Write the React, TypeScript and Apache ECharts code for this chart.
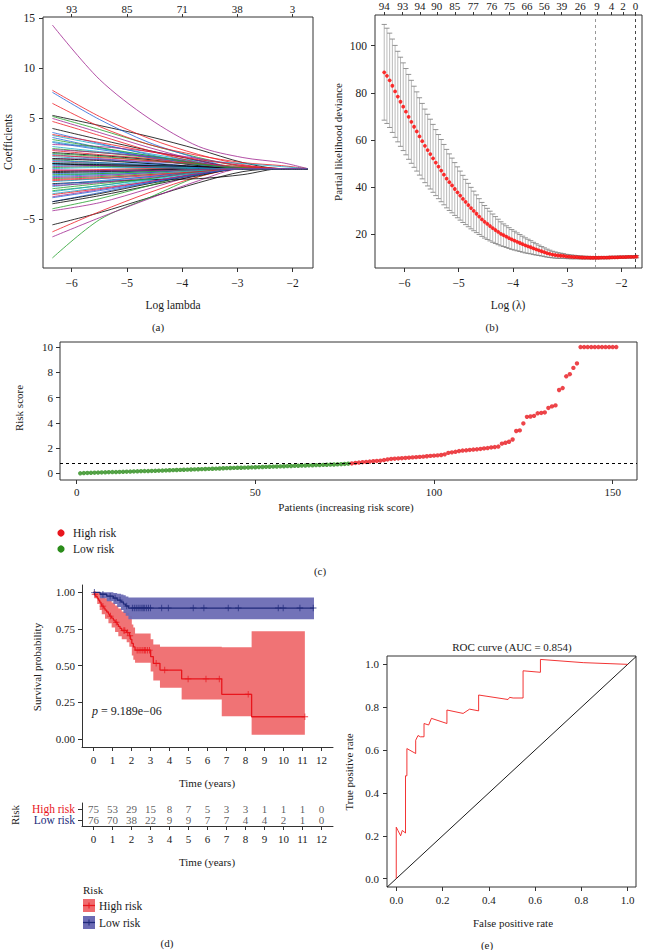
import React, { useEffect, useRef } from "react";
import * as echarts from "echarts";

const FONT = '"Liberation Serif", "DejaVu Serif", "Times New Roman", serif';

// ---------- Panel (a): LASSO coefficient paths ----------
const coefLogLambda = [-6.35, -5.5, -4.6, -3.7, -2.9, -2.2, -1.73];
const coefPaths: number[][] = [
  [5.3, 4.3, 3.2, 1.9, 0.6, 0, 0],
  [7.8, 5.2, 3.0, 1.4, 0.4, 0, 0],
  [5.2, 3.9, 2.4, 1.1, 0.2, 0, 0],
  [7.6, 4.9, 2.6, 1.0, 0, 0, 0],
  [3.3, 2.4, 1.5, 0.7, 0.1, 0, 0],
  [14.3, 8.9, 5.0, 2.2, 1.1, 0.6, 0],
  [-5.6, -4.4, -2.9, -1.4, -0.3, 0, 0],
  [6.5, 4.2, 2.4, 1.3, 0.6, 0.3, 0],
  [-8.9, -5.1, -2.9, -0.8, 0, 0, 0],
  [3.6, 2.5, 1.4, 0.5, 0, 0, 0],
  [2.2, 1.7, 1.2, 0.8, 0.5, 0.2, 0],
  [-6.8, -4.9, -3.0, -1.2, 0, 0, 0],
  [4.0, 2.9, 1.8, 0.8, 0, 0, 0],
  [-6.3, -4.3, -2.4, -0.8, 0, 0, 0],
  [2.0, 1.6, 1.1, 0.5, 0, 0, 0],
  [3.1, 2.1, 1.1, 0.3, 0, 0, 0],
  [-2.5, -1.9, -1.2, -0.5, 0, 0, 0],
  [-4.2, -3.4, -2.0, -0.6, 0, 0, 0],
  [-3.5, -2.7, -1.7, -0.7, 0, 0, 0],
  [4.7, 3.3, 1.8, 0.6, 0, 0, 0],
  [-4.0, -3.0, -1.7, -0.4, 0, 0, 0],
  [-3.3, -2.4, -1.4, -0.5, 0, 0, 0],
  [1.2, 0.9, 0.5, 0.1, 0, 0, 0],
  [5.0, 3.6, 2.1, 0.8, 0, 0, 0],
  [-1.5, -1.3, -1.1, -1.0, -0.6, 0, 0],
  [1.8, 1.4, 1.0, 0.5, 0, 0, 0],
  [0.9, 0.6, 0.3, 0, 0, 0, 0],
  [1.4, 1.0, 0.6, 0.2, 0, 0, 0],
  [-1.8, -1.3, -0.8, -0.3, 0, 0, 0],
  [2.4, 2.2, 1.7, 1.0, 0.3, 0, 0],
  [1.6, 1.3, 0.9, 0.3, 0, 0, 0],
  [-2.6, -2.0, -1.3, -0.5, 0, 0, 0],
  [-2.0, -1.5, -1.0, -0.4, 0, 0, 0],
  [0.4, 0.3, 0.2, 0, 0, 0, 0],
  [0.3, 0.4, 0.3, 0.1, 0, 0, 0],
  [1.0, 0.9, 0.7, 0.4, 0, 0, 0],
  [-3.3, -2.5, -1.5, -0.6, 0, 0, 0],
  [0.7, 0.5, 0.3, 0.2, 0.1, 0, 0],
  [-1.0, -0.8, -0.5, -0.2, 0, 0, 0],
  [-0.5, -0.4, -0.2, 0, 0, 0, 0],
  [2.7, 2.0, 1.3, 0.6, 0, 0, 0],
  [-0.9, -0.7, -0.4, -0.1, 0, 0, 0],
  [0.5, 0.3, 0.1, 0, 0, 0, 0],
  [-1.2, -1.0, -0.7, -0.3, 0, 0, 0],
  [0.1, 0.2, 0.2, 0.1, 0, 0, 0],
  [-1.6, -1.2, -0.8, -0.3, 0, 0, 0],
  [-0.7, -0.5, -0.3, -0.1, 0, 0, 0],
  [0.2, 0.3, 0.2, 0, 0, 0, 0],
  [-0.4, -0.3, -0.2, 0, 0, 0, 0],
  [-0.2, -0.1, 0, 0, 0, 0, 0],
  [-2.2, -1.7, -1.0, -0.3, 0, 0, 0],
  [2.6, 1.9, 1.2, 0.4, 0, 0, 0],
  [-1.3, -1.0, -0.6, -0.2, 0, 0, 0],
  [-2.8, -2.1, -1.3, -0.5, 0, 0, 0],
  [1.0, 0.8, 0.5, 0.2, 0, 0, 0],
  [3.4, 2.6, 1.7, 0.9, 0.3, 0, 0],
  [1.5, 1.2, 0.8, 0.4, 0.1, 0, 0],
  [-0.8, -0.6, -0.4, -0.1, 0, 0, 0],
  [0.6, 0.5, 0.3, 0.1, 0, 0, 0],
  [-1.7, -1.4, -0.9, -0.4, 0, 0, 0],
  [-0.3, -0.2, -0.1, 0, 0, 0, 0],
  [1.3, 1.1, 0.8, 0.5, 0.2, 0, 0],
  [-0.6, -0.5, -0.3, -0.1, 0, 0, 0],
  [0.8, 0.6, 0.4, 0.1, 0, 0, 0],
  [-2.3, -1.7, -1.1, -0.4, 0, 0, 0],
  [1.9, 1.6, 1.2, 0.6, 0, 0, 0],
  [0.5, 0.4, 0.3, 0.2, 0, 0, 0],
  [-1.1, -0.9, -0.6, -0.3, 0, 0, 0],
  [2.9, 2.1, 1.3, 0.5, 0, 0, 0],
  [-2.9, -2.2, -1.4, -0.6, 0, 0, 0],
  [0.0, 0.1, 0.1, 0, 0, 0, 0],
  [-0.1, -0.2, -0.2, -0.1, 0, 0, 0],
];
const coefTicksX = [-6, -5, -4, -3, -2];
const coefTicksY = [-5, 0, 5, 10, 15];
const coefTopPos = [-6, -5, -4, -3, -2];
const coefTopLabels = ["93", "85", "71", "38", "3"];

// ---------- Panel (b): cross-validation ----------
const cvLogLambda = [
  -6.37, -6.32, -6.27, -6.22, -6.17, -6.12, -6.07, -6.02, -5.97, -5.92,
  -5.87, -5.82, -5.77, -5.72, -5.67, -5.62, -5.57, -5.52, -5.47, -5.42,
  -5.37, -5.32, -5.27, -5.22, -5.17, -5.12, -5.07, -5.02, -4.97, -4.92,
  -4.87, -4.82, -4.77, -4.72, -4.67, -4.62, -4.57, -4.52, -4.47, -4.42,
  -4.37, -4.32, -4.27, -4.22, -4.17, -4.12, -4.07, -4.02, -3.97, -3.92,
  -3.87, -3.82, -3.77, -3.72, -3.67, -3.62, -3.57, -3.52, -3.47, -3.42,
  -3.37, -3.32, -3.27, -3.22, -3.17, -3.12, -3.07, -3.02, -2.97, -2.92,
  -2.87, -2.82, -2.77, -2.72, -2.67, -2.62, -2.57, -2.52, -2.47, -2.42,
  -2.37, -2.32, -2.27, -2.22, -2.17, -2.12, -2.07, -2.02, -1.97, -1.92,
  -1.87, -1.82, -1.77, -1.72,
];
const cvMean = [
  88.7, 87.2, 85.3, 83.0, 80.6, 78.4, 76.2, 74.1, 72.0, 69.8,
  67.7, 65.6, 63.6, 61.5, 59.5, 57.5, 55.7, 54.0, 52.2, 50.4,
  48.7, 47.0, 45.3, 43.6, 42.1, 40.7, 39.2, 37.8, 36.4, 35.0,
  33.7, 32.4, 31.1, 29.9, 28.7, 27.5, 26.3, 25.3, 24.4, 23.5,
  22.6, 21.8, 21.0, 20.2, 19.6, 19.0, 18.4, 17.8, 17.3, 16.8,
  16.3, 15.8, 15.3, 14.9, 14.5, 14.0, 13.6, 13.2, 12.8, 12.4,
  12.0, 11.7, 11.4, 11.2, 11.0, 10.9, 10.8, 10.6, 10.5, 10.4,
  10.35, 10.3, 10.2, 10.15, 10.1, 10.1, 10.05, 10.05, 10.05, 10.05,
  10.1, 10.1, 10.1, 10.15, 10.2, 10.2, 10.25, 10.3, 10.3, 10.35,
  10.4, 10.4, 10.45, 10.5,
];
const cvSd = [
  20.3, 20.2, 20.0, 19.8, 19.5, 19.2, 18.9, 18.6, 18.3, 18.0,
  17.6, 17.2, 16.8, 16.4, 16.0, 15.6, 15.2, 14.8, 14.4, 14.0,
  13.6, 13.2, 12.8, 12.4, 12.0, 11.6, 11.2, 10.8, 10.4, 10.0,
  9.6, 9.2, 8.8, 8.4, 8.0, 7.6, 7.2, 6.9, 6.6, 6.3,
  6.0, 5.7, 5.4, 5.1, 4.8, 4.6, 4.4, 4.2, 4.0, 3.8,
  3.6, 3.4, 3.2, 3.0, 2.8, 2.6, 2.4, 2.2, 2.0, 1.85,
  1.7, 1.55, 1.4, 1.3, 1.2, 1.1, 1.0, 0.9, 0.85, 0.8,
  0.75, 0.7, 0.65, 0.6, 0.6, 0.55, 0.55, 0.5, 0.5, 0.5,
  0.5, 0.5, 0.5, 0.5, 0.5, 0.5, 0.5, 0.5, 0.5, 0.5,
  0.5, 0.5, 0.5, 0.5,
];
const cvTicksX = [-6, -5, -4, -3, -2];
const cvTicksY = [20, 40, 60, 80, 100];
const cvTopPos = [-6.37, -6.03, -5.71, -5.4, -5.07, -4.73, -4.39, -4.06, -3.74, -3.42, -3.1, -2.76, -2.45, -2.18, -1.97, -1.74];
const cvTopLabels = ["94", "93", "94", "90", "85", "77", "76", "75", "66", "56", "39", "26", "9", "4", "2", "0"];
const lambdaMin = -2.48;
const lambda1se = -1.74;

// ---------- Panel (c): risk score ----------
const lowRiskScores = [
  0.0, 0.02, 0.03, 0.04, 0.05, 0.06, 0.07, 0.08, 0.09, 0.1,
  0.1, 0.11, 0.12, 0.13, 0.14, 0.15, 0.16, 0.17, 0.18, 0.18,
  0.19, 0.2, 0.21, 0.22, 0.23, 0.24, 0.25, 0.26, 0.27, 0.28,
  0.29, 0.3, 0.31, 0.32, 0.33, 0.34, 0.35, 0.36, 0.37, 0.38,
  0.4, 0.41, 0.42, 0.43, 0.44, 0.44, 0.45, 0.46, 0.47, 0.48,
  0.49, 0.5, 0.51, 0.52, 0.53, 0.54, 0.55, 0.56, 0.57, 0.58,
  0.59, 0.6, 0.61, 0.62, 0.63, 0.64, 0.65, 0.66, 0.67, 0.68,
  0.69, 0.7, 0.71, 0.72, 0.74, 0.76,
];
const highRiskScores = [
  0.78, 0.82, 0.85, 0.88, 0.9, 0.93, 0.96, 0.98, 1.0, 1.05,
  1.1, 1.14, 1.16, 1.18, 1.2, 1.22, 1.24, 1.26, 1.28, 1.3,
  1.32, 1.35, 1.38, 1.4,
  1.42, 1.45, 1.5, 1.62, 1.66, 1.7, 1.76, 1.8, 1.82, 1.85,
  1.88, 1.9, 1.93, 1.97, 2.0, 2.05, 2.08, 2.12, 2.35, 2.42,
  2.5, 2.68,
  3.35, 3.4, 3.95, 4.47, 4.5, 4.55, 4.75, 4.78, 4.82, 5.18,
  5.3, 5.38, 6.6, 6.75, 7.68, 7.85, 8.35, 8.7,
  10, 10, 10, 10, 10, 10, 10, 10, 10, 10, 10,
];
const riskCutoff = 0.79;
const riskTicksX = [0, 50, 100, 150];
const riskTicksY = [0, 2, 4, 6, 8, 10];

// ---------- Panel (d): Kaplan-Meier ----------
const highTimes = [0, 0.05, 0.12, 0.2, 0.26, 0.33, 0.4, 0.44, 0.55, 0.61, 0.7, 0.79, 0.85, 0.96, 1.05, 1.14, 1.25, 1.31, 1.4, 1.49, 1.75, 1.89, 1.95, 2.02, 2.1, 2.19, 3.01, 3.15, 3.5, 4.64, 6.75, 8.32, 11.12];
const highSurv = [1.0, 0.987, 0.973, 0.96, 0.947, 0.933, 0.92, 0.906, 0.893, 0.879, 0.866, 0.852, 0.838, 0.824, 0.81, 0.796, 0.782, 0.768, 0.754, 0.74, 0.726, 0.704, 0.68, 0.652, 0.628, 0.606, 0.562, 0.516, 0.47, 0.41, 0.305, 0.152, 0.152];
const highCensor = [0.08, 0.5, 0.9, 1.2, 1.6, 1.65, 1.8, 1.92, 2.3, 2.4, 2.5, 2.6, 2.68, 2.75, 2.85, 2.95, 3.3, 3.75, 4.98, 5.92, 6.62, 8.14, 11.12];
const highBandT = [0, 0.05, 0.2, 0.33, 0.44, 0.61, 0.79, 0.96, 1.14, 1.31, 1.49, 1.75, 1.89, 2.02, 2.1, 2.19, 3.01, 3.15, 3.5, 4.64, 6.75, 8.32, 11.12];
const highBandLo = [1.0, 0.96, 0.92, 0.88, 0.85, 0.82, 0.79, 0.76, 0.73, 0.7, 0.68, 0.66, 0.63, 0.57, 0.54, 0.52, 0.46, 0.4, 0.35, 0.27, 0.155, 0.03, 0.03];
const highBandHi = [1.0, 1.0, 1.0, 0.99, 0.975, 0.96, 0.945, 0.93, 0.91, 0.89, 0.87, 0.86, 0.84, 0.78, 0.76, 0.72, 0.68, 0.645, 0.63, 0.63, 0.625, 0.735, 0.735];

const lowTimes = [0, 0.35, 0.7, 1.05, 1.25, 1.45, 1.58, 1.7, 1.84, 11.6];
const lowSurv = [1.0, 0.987, 0.974, 0.961, 0.947, 0.934, 0.92, 0.907, 0.893, 0.893];
const lowCensor = [0.05, 0.5, 0.88, 1.14, 1.4, 1.75, 2.05, 2.15, 2.25, 2.35, 2.45, 2.55, 2.62, 2.7, 2.8, 2.9, 3.0, 3.59, 3.94, 5.25, 5.81, 7.09, 7.62, 9.72, 9.98, 10.86, 11.56];
const lowBandT = [0, 0.35, 0.7, 1.05, 1.25, 1.45, 1.58, 1.7, 1.84, 11.6];
const lowBandLo = [1.0, 0.96, 0.94, 0.92, 0.9, 0.88, 0.86, 0.84, 0.817, 0.817];
const lowBandHi = [1.0, 1.0, 1.0, 0.995, 0.99, 0.985, 0.98, 0.972, 0.965, 0.965];

const kmTicksX = [0, 1, 2, 3, 4, 5, 6, 7, 8, 9, 10, 11, 12];
const kmTicksY = [0, 0.25, 0.5, 0.75, 1.0];
const pValueText = "9.189e\u221206";

const riskTableTimes = [0, 1, 2, 3, 4, 5, 6, 7, 8, 9, 10, 11, 12];
const highAtRisk = [75, 53, 29, 15, 8, 7, 5, 3, 3, 1, 1, 1, 0];
const lowAtRisk = [76, 70, 38, 22, 9, 9, 7, 7, 4, 4, 2, 1, 0];
const riskGroups = ["Low risk", "High risk"];

// ---------- Panel (e): ROC ----------
const rocFpr = [0, 0, 0.007, 0.019, 0.026, 0.04, 0.04, 0.046, 0.046, 0.084, 0.084, 0.094, 0.104, 0.12, 0.12, 0.14, 0.152, 0.219, 0.219, 0.289, 0.317, 0.356, 0.356, 0.483, 0.49, 0.505, 0.548, 0.548, 0.623, 0.623, 0.808, 1.0];
const rocTpr = [0, 0.24, 0.225, 0.2, 0.225, 0.213, 0.48, 0.48, 0.607, 0.584, 0.646, 0.668, 0.662, 0.662, 0.724, 0.717, 0.748, 0.724, 0.787, 0.771, 0.791, 0.783, 0.857, 0.836, 0.846, 0.843, 0.843, 0.97, 0.963, 1.023, 1.008, 1.0];
const rocTicks = [0, 0.2, 0.4, 0.6, 0.8, 1.0];
const rocTitle = "ROC curve (AUC = 0.854)";

// ---------- styles ----------
const PALETTE = ["#000000", "#ee1c25", "#22a02a", "#2463d8", "#19aac6", "#a0238f"];
const RED = "#e8161d";
const NAVY = "#202a7a";
const RED_BAND = "#ef6b6e";
const BLUE_BAND = "#6b6bb4";
const GREEN = "#2a8c1a";
const AXIS = "#333333";
const TXT = "#1a1a1a";

const PLUS = "path://M4.3,0H5.7V10H4.3ZM0,4.3H10V5.7H0Z";

function stepAt(times: number[], vals: number[], t: number) {
  let v = vals[0];
  for (let i = 0; i < times.length; i++) if (times[i] <= t) v = vals[i];
  return v;
}

function vAxis(o: any) {
  return {
    type: "value",
    gridIndex: o.grid,
    min: o.min,
    max: o.max,
    position: o.position,
    axisLine: { show: !!o.line, onZero: false, lineStyle: { color: AXIS, width: 1 } },
    axisTick: {
      show: o.ticks !== false,
      customValues: o.vals,
      length: o.tickLen || 4,
      lineStyle: { color: AXIS, width: 1 },
    },
    axisLabel: {
      show: true,
      customValues: o.vals,
      formatter: o.fmt || ((v: number) => String(v).replace("-", "\u2212")),
      fontSize: o.fs || 11.5,
      fontFamily: FONT,
      color: TXT,
      margin: o.margin || 8,
    },
    splitLine: { show: false },
  };
}

function bandSeries(xi: number, yi: number, t: number[], lo: number[], hi: number[], color: string, z: number) {
  return {
    type: "custom",
    xAxisIndex: xi,
    yAxisIndex: yi,
    silent: true,
    z,
    data: [[t[0], lo[0]]],
    renderItem: (_p: any, api: any) => {
      const pts: number[][] = [];
      for (let i = 0; i < t.length; i++) {
        const tNext = i < t.length - 1 ? t[i + 1] : t[i];
        pts.push(api.coord([t[i], hi[i]]));
        pts.push(api.coord([tNext, hi[i]]));
      }
      for (let i = t.length - 1; i >= 0; i--) {
        const tNext = i < t.length - 1 ? t[i + 1] : t[i];
        pts.push(api.coord([tNext, lo[i]]));
        pts.push(api.coord([t[i], lo[i]]));
      }
      return { type: "polygon", shape: { points: pts }, style: { fill: color, opacity: 0.95 } };
    },
  };
}

function txt(x: number, y: number, text: string, o: any = {}) {
  return {
    type: "text",
    x,
    y,
    rotation: o.rot || 0,
    silent: true,
    style: {
      text,
      fill: o.color || TXT,
      font: `${o.style || "normal"} ${o.fs || 11}px ${FONT}`,
      textAlign: o.align || "center",
      textVerticalAlign: "middle",
    },
  };
}

export default function App() {
  const ref = useRef<HTMLDivElement>(null);

  useEffect(() => {
    if (!ref.current) return;
    const chart = echarts.init(ref.current, null, { renderer: "svg" });

    const grids = [
      { left: 43, top: 17, width: 270, height: 251, show: true, borderColor: AXIS, borderWidth: 1 },
      { left: 375, top: 15, width: 267, height: 253, show: true, borderColor: AXIS, borderWidth: 1 },
      { left: 60, top: 342, width: 577, height: 138, show: true, borderColor: AXIS, borderWidth: 1 },
      { left: 82, top: 585, width: 251, height: 162, show: false },
      { left: 82, top: 803, width: 251, height: 23, show: false },
      { left: 387, top: 656, width: 249, height: 231, show: true, borderColor: AXIS, borderWidth: 1 },
    ];

    const topFmt = (pos: number[], labels: string[]) => (v: number) => {
      const i = pos.findIndex((p) => Math.abs(p - v) < 1e-6);
      return i >= 0 ? labels[i] : "";
    };

    const xAxes = [
      vAxis({ grid: 0, min: -6.52, max: -1.63, vals: coefTicksX, margin: 9 }),
      vAxis({ grid: 0, min: -6.52, max: -1.63, vals: coefTopPos, position: "top", fmt: topFmt(coefTopPos, coefTopLabels), margin: 3, tickLen: 3, fs: 11 }),
      vAxis({ grid: 1, min: -6.54, max: -1.62, vals: cvTicksX, margin: 9 }),
      vAxis({ grid: 1, min: -6.54, max: -1.62, vals: cvTopPos, position: "top", fmt: topFmt(cvTopPos, cvTopLabels), margin: 4, tickLen: 3, fs: 11 }),
      vAxis({ grid: 2, min: -4.66, max: 156.8, vals: riskTicksX, fs: 11, margin: 6 }),
      vAxis({ grid: 3, min: -0.6, max: 12.6, vals: kmTicksX, fs: 11, line: true, margin: 7 }),
      vAxis({ grid: 4, min: -0.6, max: 12.6, vals: riskTableTimes, fs: 11, line: true, margin: 7 }),
      vAxis({ grid: 5, min: -0.04, max: 1.036, vals: rocTicks, fs: 11, margin: 7, fmt: (v: number) => v.toFixed(1) }),
    ];

    const yAxes: any[] = [
      vAxis({ grid: 0, min: -9.9, max: 15.1, vals: coefTicksY, margin: 8 }),
      vAxis({ grid: 1, min: 5.7, max: 113, vals: cvTicksY, margin: 8 }),
      vAxis({ grid: 2, min: -0.53, max: 10.4, vals: riskTicksY, fs: 11, margin: 7 }),
      vAxis({ grid: 3, min: -0.054, max: 1.05, vals: kmTicksY, fs: 11, line: true, margin: 7, fmt: (v: number) => v.toFixed(2) }),
      {
        type: "category",
        gridIndex: 4,
        data: riskGroups,
        axisLine: { show: true, onZero: false, lineStyle: { color: AXIS, width: 1 } },
        axisTick: { show: true, alignWithLabel: true, interval: 0, length: 4, lineStyle: { color: AXIS } },
        axisLabel: {
          show: true,
          interval: 0,
          hideOverlap: false,
          fontSize: 11.5,
          fontFamily: FONT,
          margin: 7,
          color: (v: string) => (v === "High risk" ? RED : NAVY),
        },
        splitLine: { show: false },
      },
      vAxis({ grid: 5, min: -0.039, max: 1.039, vals: rocTicks, fs: 11, margin: 8, fmt: (v: number) => v.toFixed(1) }),
    ];

    const series: any[] = [];

    // (a) coefficient paths
    coefPaths.forEach((vals, i) => {
      series.push({
        type: "line",
        xAxisIndex: 0,
        yAxisIndex: 0,
        data: vals.map((v, j) => [coefLogLambda[j], v]),
        smooth: 0.3,
        showSymbol: false,
        silent: true,
        lineStyle: { width: 0.8, color: PALETTE[i % PALETTE.length] },
      });
    });

    // (b) error bars + mean
    series.push({
      type: "custom",
      xAxisIndex: 2,
      yAxisIndex: 1,
      silent: true,
      data: cvLogLambda.map((x, i) => [x, cvMean[i] - cvSd[i], cvMean[i] + cvSd[i]]),
      encode: { x: 0, y: [1, 2] },
      renderItem: (_p: any, api: any) => {
        const x = api.value(0);
        const lo = api.coord([x, api.value(1)]);
        const hi = api.coord([x, api.value(2)]);
        const w = 2.6;
        return {
          type: "group",
          children: [
            { type: "line", shape: { x1: lo[0], y1: lo[1], x2: hi[0], y2: hi[1] }, style: { stroke: "#a8a8a8", lineWidth: 0.8 } },
            { type: "line", shape: { x1: hi[0] - w, y1: hi[1], x2: hi[0] + w, y2: hi[1] }, style: { stroke: "#7a7a7a", lineWidth: 0.8 } },
            { type: "line", shape: { x1: lo[0] - w, y1: lo[1], x2: lo[0] + w, y2: lo[1] }, style: { stroke: "#7a7a7a", lineWidth: 0.8 } },
          ],
        };
      },
    });
    series.push({
      type: "scatter",
      xAxisIndex: 2,
      yAxisIndex: 1,
      silent: true,
      z: 5,
      symbol: "circle",
      symbolSize: 3.8,
      itemStyle: { color: "#ff0000" },
      data: cvLogLambda.map((x, i) => [x, cvMean[i]]),
      markLine: {
        silent: true,
        symbol: "none",
        label: { show: false },
        data: [
          { xAxis: lambdaMin, lineStyle: { color: "#8c8c8c", type: [3, 3], width: 0.9 } },
          { xAxis: lambda1se, lineStyle: { color: "#333333", type: [3, 3], width: 0.9 } },
        ],
      },
    });

    // (c) risk score scatter
    series.push({
      type: "scatter",
      xAxisIndex: 4,
      yAxisIndex: 2,
      silent: true,
      symbolSize: 4.4,
      itemStyle: { color: GREEN },
      data: lowRiskScores.map((v, i) => [i + 1, v]),
    });
    series.push({
      type: "scatter",
      xAxisIndex: 4,
      yAxisIndex: 2,
      silent: true,
      symbolSize: 4.4,
      itemStyle: { color: RED },
      data: highRiskScores.map((v, i) => [lowRiskScores.length + i + 1, v]),
      markLine: {
        silent: true,
        symbol: "none",
        label: { show: false },
        data: [{ yAxis: riskCutoff, lineStyle: { color: "#000", type: [3, 3], width: 1 } }],
      },
    });

    // (d) KM bands, curves, censors
    series.push(bandSeries(5, 3, highBandT, highBandLo, highBandHi, RED_BAND, 1));
    series.push(bandSeries(5, 3, lowBandT, lowBandLo, lowBandHi, BLUE_BAND, 2));
    series.push({
      type: "line",
      xAxisIndex: 5,
      yAxisIndex: 3,
      step: "end",
      showSymbol: false,
      silent: true,
      z: 3,
      lineStyle: { color: RED, width: 1.3 },
      data: highTimes.map((t, i) => [t, highSurv[i]]),
    });
    series.push({
      type: "line",
      xAxisIndex: 5,
      yAxisIndex: 3,
      step: "end",
      showSymbol: false,
      silent: true,
      z: 3,
      lineStyle: { color: NAVY, width: 1.3 },
      data: lowTimes.map((t, i) => [t, lowSurv[i]]),
    });
    series.push({
      type: "scatter",
      xAxisIndex: 5,
      yAxisIndex: 3,
      silent: true,
      z: 4,
      symbol: PLUS,
      symbolSize: 6.5,
      itemStyle: { color: RED },
      data: highCensor.map((t) => [t, stepAt(highTimes, highSurv, t)]),
    });
    series.push({
      type: "scatter",
      xAxisIndex: 5,
      yAxisIndex: 3,
      silent: true,
      z: 4,
      symbol: PLUS,
      symbolSize: 6.5,
      itemStyle: { color: NAVY },
      data: lowCensor.map((t) => [t, stepAt(lowTimes, lowSurv, t)]),
    });

    // risk table numbers
    const tableLabel = {
      show: true,
      position: "inside",
      formatter: (p: any) => String(p.data[2]),
      fontSize: 11,
      fontFamily: FONT,
      color: "#333",
    };
    series.push({
      type: "scatter",
      xAxisIndex: 6,
      yAxisIndex: 4,
      silent: true,
      symbolSize: 1,
      itemStyle: { color: "transparent" },
      label: tableLabel,
      labelLayout: { hideOverlap: false },
      data: riskTableTimes.map((t, i) => [t, "High risk", highAtRisk[i]]),
    });
    series.push({
      type: "scatter",
      xAxisIndex: 6,
      yAxisIndex: 4,
      silent: true,
      symbolSize: 1,
      itemStyle: { color: "transparent" },
      label: tableLabel,
      labelLayout: { hideOverlap: false },
      data: riskTableTimes.map((t, i) => [t, "Low risk", lowAtRisk[i]]),
    });

    // (e) ROC
    series.push({
      type: "line",
      xAxisIndex: 7,
      yAxisIndex: 5,
      showSymbol: false,
      silent: true,
      lineStyle: { color: "#000", width: 0.9 },
      data: [[-0.04, -0.04], [1.036, 1.036]],
    });
    series.push({
      type: "line",
      xAxisIndex: 7,
      yAxisIndex: 5,
      showSymbol: false,
      silent: true,
      z: 3,
      lineStyle: { color: "#f01e1e", width: 0.9 },
      data: rocFpr.map((x, i) => [x, rocTpr[i]]),
    });

    const graphics: any[] = [
      txt(8, 142, "Coefficients", { rot: Math.PI / 2, fs: 11.5 }),
      txt(173, 305, "Log lambda", { fs: 11.5 }),
      txt(158, 327, "(a)", { fs: 11 }),
      txt(338, 142, "Partial likelihood deviance", { rot: Math.PI / 2, fs: 11 }),
      txt(508, 305, "Log (\u03bb)", { fs: 11.5 }),
      txt(492, 327, "(b)", { fs: 11 }),
      txt(19, 408, "Risk score", { rot: Math.PI / 2, fs: 11 }),
      txt(346, 507, "Patients (increasing risk score)", { fs: 11 }),
      { type: "circle", silent: true, shape: { cx: 61, cy: 533, r: 3.6 }, style: { fill: RED } },
      { type: "circle", silent: true, shape: { cx: 61, cy: 549, r: 3.6 }, style: { fill: GREEN } },
      txt(73, 533, "High risk", { align: "left", fs: 11.5 }),
      txt(73, 549, "Low risk", { align: "left", fs: 11.5 }),
      txt(320, 571, "(c)", { fs: 11 }),
      txt(37, 667, "Survival probability", { rot: Math.PI / 2, fs: 11 }),
      {
        type: "text",
        x: 92,
        y: 711,
        silent: true,
        style: {
          text: "{i|p} = " + pValueText,
          font: `12px ${FONT}`,
          fill: TXT,
          textAlign: "left",
          textVerticalAlign: "middle",
          rich: { i: { fontStyle: "italic", fontSize: 12, fontFamily: FONT, fill: TXT } },
        },
      },
      txt(207, 783, "Time (years)", { fs: 11 }),
      txt(15, 815, "Risk", { rot: Math.PI / 2, fs: 11 }),
      txt(207, 862, "Time (years)", { fs: 11 }),
      txt(83, 890, "Risk", { align: "left", fs: 11 }),
      { type: "rect", silent: true, shape: { x: 83, y: 899, width: 12, height: 13 }, style: { fill: RED_BAND } },
      { type: "line", silent: true, shape: { x1: 83, y1: 905.5, x2: 95, y2: 905.5 }, style: { stroke: RED, lineWidth: 1.3 } },
      { type: "line", silent: true, shape: { x1: 89, y1: 902.5, x2: 89, y2: 908.5 }, style: { stroke: RED, lineWidth: 1 } },
      { type: "rect", silent: true, shape: { x: 83, y: 916, width: 12, height: 13 }, style: { fill: BLUE_BAND } },
      { type: "line", silent: true, shape: { x1: 83, y1: 922.5, x2: 95, y2: 922.5 }, style: { stroke: NAVY, lineWidth: 1.3 } },
      { type: "line", silent: true, shape: { x1: 89, y1: 919.5, x2: 89, y2: 925.5 }, style: { stroke: NAVY, lineWidth: 1 } },
      txt(99, 906, "High risk", { align: "left", fs: 11.5 }),
      txt(99, 923, "Low risk", { align: "left", fs: 11.5 }),
      txt(167, 943, "(d)", { fs: 11 }),
      txt(512, 647, rocTitle, { fs: 11 }),
      txt(349, 772, "True positive rate", { rot: Math.PI / 2, fs: 11 }),
      txt(513, 923, "False positive rate", { fs: 11 }),
      txt(487, 945, "(e)", { fs: 11 }),
    ];

    chart.setOption({
      animation: false,
      backgroundColor: "#ffffff",
      textStyle: { fontFamily: FONT },
      grid: grids,
      xAxis: xAxes,
      yAxis: yAxes,
      series,
      graphic: { elements: graphics },
    });

    return () => chart.dispose();
  }, []);

  return (
    <div
      ref={ref}
      style={{ position: "absolute", left: 0, top: 0, width: 646, height: 950, background: "#fff" }}
    />
  );
}
